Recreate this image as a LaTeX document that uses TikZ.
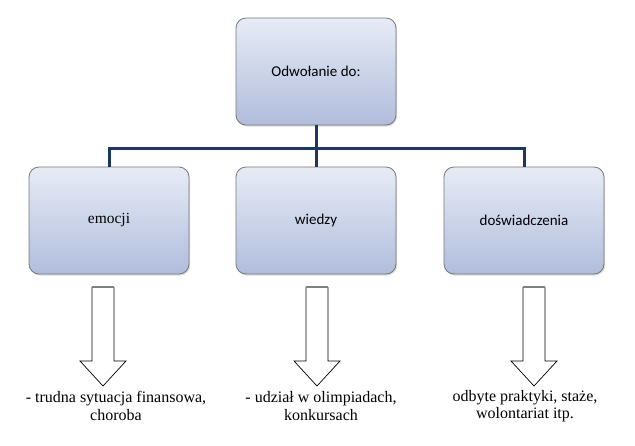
\documentclass[tikz,border=0pt]{standalone}
\usepackage{fontspec}
\setmainfont{Liberation Serif}
\newfontfamily\calibrifont{Carlito}
\newfontfamily\timesfont{Liberation Serif}
\usepackage{xcolor}
\usepackage{tikz}
\usetikzlibrary{shapes,arrows,positioning,shadows}
\definecolor{boxtop}{RGB}{231,235,246}
\definecolor{boxbottom}{RGB}{176,189,219}
\definecolor{boxborder}{RGB}{120,120,120}
\definecolor{linknavy}{RGB}{28,56,98}

\begin{document}
\begin{tikzpicture}[x=1pt, y=1pt,
    box/.style={rectangle, draw=boxborder, line width=0.8pt, top color=boxtop, bottom color=boxbottom,
      rounded corners=10pt, minimum width=160pt, minimum height=107pt,
      font=\calibrifont\fontsize{15}{18}\selectfont,
      drop shadow={shadow xshift=1pt, shadow yshift=-1.5pt, opacity=0.3}},
    link/.style={draw=linknavy, line width=3pt},
    blockarrow/.style={draw=black, fill=white, line width=0.7pt},
    note/.style={align=center, font=\timesfont\fontsize{16}{17.5}\selectfont}]
  \useasboundingbox (0,0) rectangle (635,-445);

  \node[box] (root) at (316,-71.5) {Odwołanie do:};
  \node[box] (emocji) at (109,-220.5) {\timesfont\fontsize{15.5}{18}\selectfont emocji};
  \node[box] (wiedzy) at (316,-220.5) {wiedzy};
  \node[box] (doswiadczenia) at (524,-220.5) {doświadczenia};

  \coordinate (bus) at (316,-148);
  \draw[link] (root.south) -- (bus);
  \draw[link] (emocji.north) |- (bus) -| (doswiadczenia.north);
  \draw[link] (bus) -- (wiedzy.north);

  \foreach \x in {103, 317, 534} {
    \draw[blockarrow] (\x-11,-287) -- (\x-11,-361) -- (\x-23,-361) -- (\x,-386)
      -- (\x+23,-361) -- (\x+11,-361) -- (\x+11,-287);
    \draw[gray, line width=1.6pt] (\x-11,-287) -- (\x+11,-287);
  }

  \node[note] (noteEmocji) at (116,-406) {- trudna sytuacja finansowa,\\choroba};
  \node[note] (noteWiedzy) at (321,-406) {- udział w olimpiadach,\\konkursach};
  \node[note] (noteDoswiadczenia) at (525,-406) {odbyte praktyki, staże,\\wolontariat itp.};
\end{tikzpicture}
\end{document}
